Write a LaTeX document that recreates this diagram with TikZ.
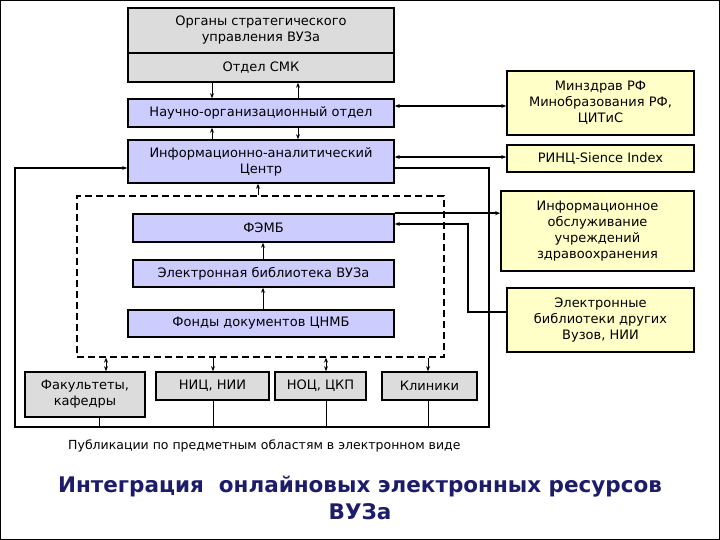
\documentclass[tikz,border=0pt]{standalone}
\usepackage{fontspec}
\setmainfont{DejaVu Sans}
\usetikzlibrary{arrows.meta}
\definecolor{gr}{HTML}{DCDCDC}
\definecolor{bl}{HTML}{CCCCFF}
\definecolor{ye}{HTML}{FFFFC8}
\definecolor{tt}{HTML}{1C1C6A}
\begin{document}
\begin{tikzpicture}[x=1pt,y=-1pt,
 bx/.style={draw,line width=1.6pt,align=center,inner sep=1pt,font=\fontsize{13}{16}\selectfont},
 gbox/.style={bx,fill=gr}, bbox/.style={bx,fill=bl}, ybox/.style={bx,fill=ye},
 ar/.style={-{Stealth[length=5pt,width=4pt]},line width=0.8pt},
 da/.style={{Stealth[length=5pt,width=4pt]}-{Stealth[length=5pt,width=4pt]},line width=0.8pt}]
\draw[line width=1pt,fill=white] (0.5,0.5) rectangle (719.5,539.5);
\node[gbox,minimum width=266pt,minimum height=45pt] (org) at (261,30.5) {Органы стратегического\\управления ВУЗа};
\node[gbox,minimum width=266pt,minimum height=29pt] (smk) at (261,67.5) {Отдел СМК};
\node[bbox,minimum width=266pt,minimum height=28pt] (nauch) at (261,113) {Научно-организационный отдел};
\node[bbox,minimum width=266pt,minimum height=43pt] (inf) at (261,161.5) {Информационно-аналитический\\Центр};
\node[ybox,minimum width=187pt,minimum height=64pt] (minz) at (600.5,103) {Минздрав РФ\\Минобразования РФ,\\ЦИТиС};
\node[ybox,minimum width=187pt,minimum height=27pt] (rinc) at (600.5,158.5) {РИНЦ-Sience Index};
\node[ybox,minimum width=193pt,minimum height=80pt] (obsl) at (597.5,231) {Информационное\\обслуживание\\учреждений\\здравоохранения};
\node[ybox,minimum width=187pt,minimum height=64pt] (eldr) at (600.5,320) {Электронные\\библиотеки других\\Вузов, НИИ};
\node[draw,line width=1.3pt,dash pattern=on 7pt off 4pt,minimum width=367pt,minimum height=161pt,inner sep=0pt] (dsh) at (260.5,276.5) {};
\node[bbox,minimum width=261pt,minimum height=28pt] (femb) at (263.5,228) {ФЭМБ};
\node[bbox,minimum width=261pt,minimum height=27pt] (elv) at (263.5,273.5) {Электронная библиотека ВУЗа};
\node[bbox,minimum width=266pt,minimum height=27pt] (fond) at (261,323.5) {Фонды документов ЦНМБ};
\node[gbox,minimum width=120pt,minimum height=45pt] (fak) at (85,394.5) {Факультеты,\\кафедры};
\node[gbox,minimum width=113pt,minimum height=28pt] (nic) at (212.5,386) {НИЦ, НИИ};
\node[gbox,minimum width=91pt,minimum height=28pt] (noc) at (320.5,386) {НОЦ, ЦКП};
\node[gbox,minimum width=95pt,minimum height=28pt] (kln) at (429.5,386) {Клиники};
\node[anchor=west,font=\fontsize{12.5}{14}\selectfont,inner sep=0pt] (pub) at (68,446) {Публикации по предметным областям в электронном виде};
\node[font=\bfseries\fontsize{21.5}{27}\selectfont,text=tt,align=center] (title) at (360,498) {Интеграция\ \ онлайновых электронных ресурсов\\ВУЗа};
\draw[ar] (smk.south -| 212,0) -- (nauch.north -| 212,0);
\draw[ar] (nauch.north -| 298,0) -- (smk.south -| 298,0);
\draw[ar] (inf.north -| 212,0) -- (nauch.south -| 212,0);
\draw[ar] (nauch.south -| 298,0) -- (inf.north -| 298,0);
\draw[da,line width=1.6pt] (nauch.east |- 0,106) -- (minz.west |- 0,106);
\draw[da,line width=1.6pt] (inf.east |- 0,157) -- (rinc.west |- 0,157);
\coordinate (cR) at (489,427);
\coordinate (cL) at (15,427);
\draw[ar,line width=1.6pt] (inf.east |- 0,168) -- (489,168) -- (cR) -- (cL) -- (15,168) -- (inf.west |- 0,168);
\draw[ar] (dsh.north -| 258,0) -- (inf.south -| 258,0);
\draw[ar,line width=1.6pt] (femb.north east) -- (obsl.west |- femb.north east);
\draw[ar,line width=1.6pt] (eldr.west |- 0,312) -- (468,312) -- (468,224) -- (femb.east |- 0,224);
\draw[ar] (elv.north -| 263,0) -- (femb.south -| 263,0);
\draw[ar] (fond.north -| 263,0) -- (elv.south -| 263,0);
\draw[da] (dsh.south -| 106,0) -- (fak.north -| 106,0);
\draw[ar] (dsh.south -| 213,0) -- (nic.north -| 213,0);
\draw[da] (dsh.south -| 326,0) -- (noc.north -| 326,0);
\draw[ar] (dsh.south -| 428,0) -- (kln.north -| 428,0);
\draw[line width=1pt] (fak.south -| 99,0) -- (cL -| 99,0);
\draw[line width=1pt] (nic.south -| 213,0) -- (cL -| 213,0);
\draw[line width=1pt] (noc.south -| 326,0) -- (cL -| 326,0);
\draw[line width=1pt] (kln.south -| 428,0) -- (cL -| 428,0);
\end{tikzpicture}
\end{document}
